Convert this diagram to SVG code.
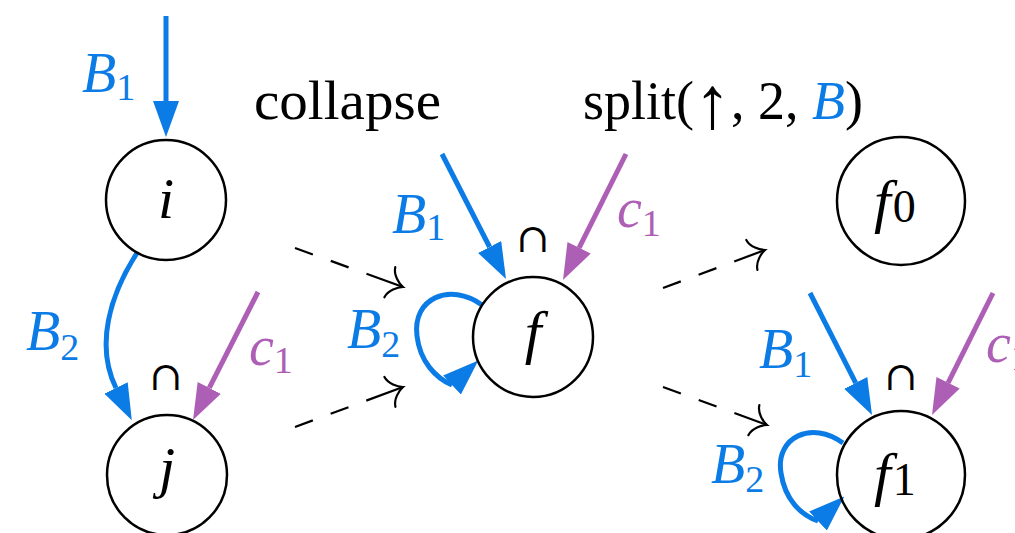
<svg xmlns="http://www.w3.org/2000/svg" width="1015" height="533" viewBox="0 0 1015 533">
<style>
.bl{stroke:#0b7be6;stroke-width:5;fill:none}
.pu{stroke:#ad5fb6;stroke-width:5;fill:none}
.da{stroke:#000;stroke-width:2.2;fill:none;stroke-dasharray:19 19 19 19 40}
.nd{fill:none;stroke:#000;stroke-width:2.5}
.t{font-family:"Liberation Serif","DejaVu Serif",serif}
.it{font-style:italic}
.lb{font-size:56px}
.sb{font-size:38px;font-style:normal}
.cb{fill:#0b7be6}
.cp{fill:#ad5fb6}
.cap{font-family:"DejaVu Serif",serif;font-size:40px;text-anchor:middle}
</style>
<defs>
<marker id="hb" viewBox="0 0 36 26" refX="0" refY="13" markerWidth="36" markerHeight="26" markerUnits="userSpaceOnUse" orient="auto"><path d="M0,0 L36,13 L0,26 Z" fill="#0b7be6"/></marker>
<marker id="hp" viewBox="0 0 36 26" refX="0" refY="13" markerWidth="36" markerHeight="26" markerUnits="userSpaceOnUse" orient="auto"><path d="M0,0 L36,13 L0,26 Z" fill="#ad5fb6"/></marker>
<marker id="hl" viewBox="0 0 36 26" refX="0" refY="13" markerWidth="36" markerHeight="26" markerUnits="userSpaceOnUse" orient="-43"><path d="M0,0 L36,13 L0,26 Z" fill="#0b7be6"/></marker>
<marker id="hd" viewBox="-18 -20 22 40" refX="0" refY="0" markerWidth="22" markerHeight="40" markerUnits="userSpaceOnUse" orient="auto"><path d="M-14,-16 C-13,-8 -5,-2 0,0 C-5,2 -13,8 -14,16" fill="none" stroke="#000" stroke-width="2.2" stroke-linecap="round"/></marker>
</defs>
<g id="connectors">
<line class="bl" x1="166" y1="16" x2="166" y2="101" marker-end="url(#hb)"/>
<path class="bl" d="M137,253 C110,295 95,345 116,388" marker-end="url(#hb)"/>
<line class="pu" x1="258" y1="292" x2="209.3" y2="387.9" marker-end="url(#hp)"/>
<line class="bl" x1="442" y1="154" x2="489.6" y2="247" marker-end="url(#hb)"/>
<line class="pu" x1="626" y1="154" x2="579.1" y2="247.8" marker-end="url(#hp)"/>
<path class="bl" d="M482,305 C450,282 412,298 417,336 C420,362 436,378 452,385" marker-end="url(#hl)"/>
<line class="bl" x1="810" y1="293" x2="855.7" y2="382.9" marker-end="url(#hb)"/>
<line class="pu" x1="993" y1="293" x2="948.1" y2="382.8" marker-end="url(#hp)"/>
<path class="bl" d="M843,443 C812,420 775,437 781,473 C785,500 801,515 818,521" marker-end="url(#hl)"/>
<line class="da" x1="295" y1="248" x2="403" y2="287" marker-end="url(#hd)"/>
<line class="da" x1="295" y1="427" x2="403" y2="387" marker-end="url(#hd)"/>
<line class="da" x1="663" y1="288" x2="765" y2="250" marker-end="url(#hd)"/>
<line class="da" x1="663" y1="387" x2="767" y2="425" marker-end="url(#hd)"/>
</g>
<g id="node-i"><circle class="nd" cx="166" cy="200" r="60"/><text class="t it" x="166" y="218" font-size="58" text-anchor="middle">i</text></g>
<g id="node-j"><circle class="nd" cx="167" cy="475" r="60"/><text class="t it" x="167" y="487" font-size="58" text-anchor="middle">j</text></g>
<g id="node-f"><circle class="nd" cx="533" cy="337" r="60"/><text class="t it" x="533" y="352" font-size="60" text-anchor="middle">f</text></g>
<g id="node-f0"><circle class="nd" cx="901" cy="201" r="64"/><text class="t" x="874" y="221" font-size="60"><tspan class="it">f</tspan><tspan font-size="46" dx="2" dy="1">0</tspan></text></g>
<g id="node-f1"><circle class="nd" cx="901" cy="475" r="64"/><text class="t" x="874" y="494" font-size="60"><tspan class="it">f</tspan><tspan font-size="46" dx="2" dy="1">1</tspan></text></g>
<g id="labels">
<text class="t" x="254" y="119" font-size="54" textLength="187" lengthAdjust="spacingAndGlyphs">collapse</text>
<text class="t" x="583" y="119" font-size="54">split(<tspan font-size="74" dy="9">↑</tspan><tspan dy="-9">, 2, </tspan><tspan class="it cb">B</tspan>)</text>
<text class="t lb cb" x="82" y="92"><tspan class="it">B</tspan><tspan class="sb" dy="8">1</tspan></text>
<text class="t lb cb" x="26" y="350"><tspan class="it">B</tspan><tspan class="sb" dy="10">2</tspan></text>
<text class="t lb cp" x="249" y="365"><tspan class="it">c</tspan><tspan class="sb" dy="8">1</tspan></text>
<text class="t lb cb" x="392" y="233"><tspan class="it">B</tspan><tspan class="sb" dy="7">1</tspan></text>
<text class="t lb cp" x="617" y="227"><tspan class="it">c</tspan><tspan class="sb" dy="9">1</tspan></text>
<text class="t lb cb" x="347" y="348"><tspan class="it">B</tspan><tspan class="sb" dy="9">2</tspan></text>
<text class="t lb cb" x="759" y="368"><tspan class="it">B</tspan><tspan class="sb" dy="9">1</tspan></text>
<text class="t lb cp" x="986" y="362"><tspan class="it">c</tspan><tspan class="sb" dy="8">1</tspan></text>
<text class="t lb cb" x="711" y="483"><tspan class="it">B</tspan><tspan class="sb" dy="9">2</tspan></text>
<text class="cap" x="166" y="390">∩</text>
<text class="cap" x="533" y="252">∩</text>
<text class="cap" x="901" y="390">∩</text>
</g>
</svg>
